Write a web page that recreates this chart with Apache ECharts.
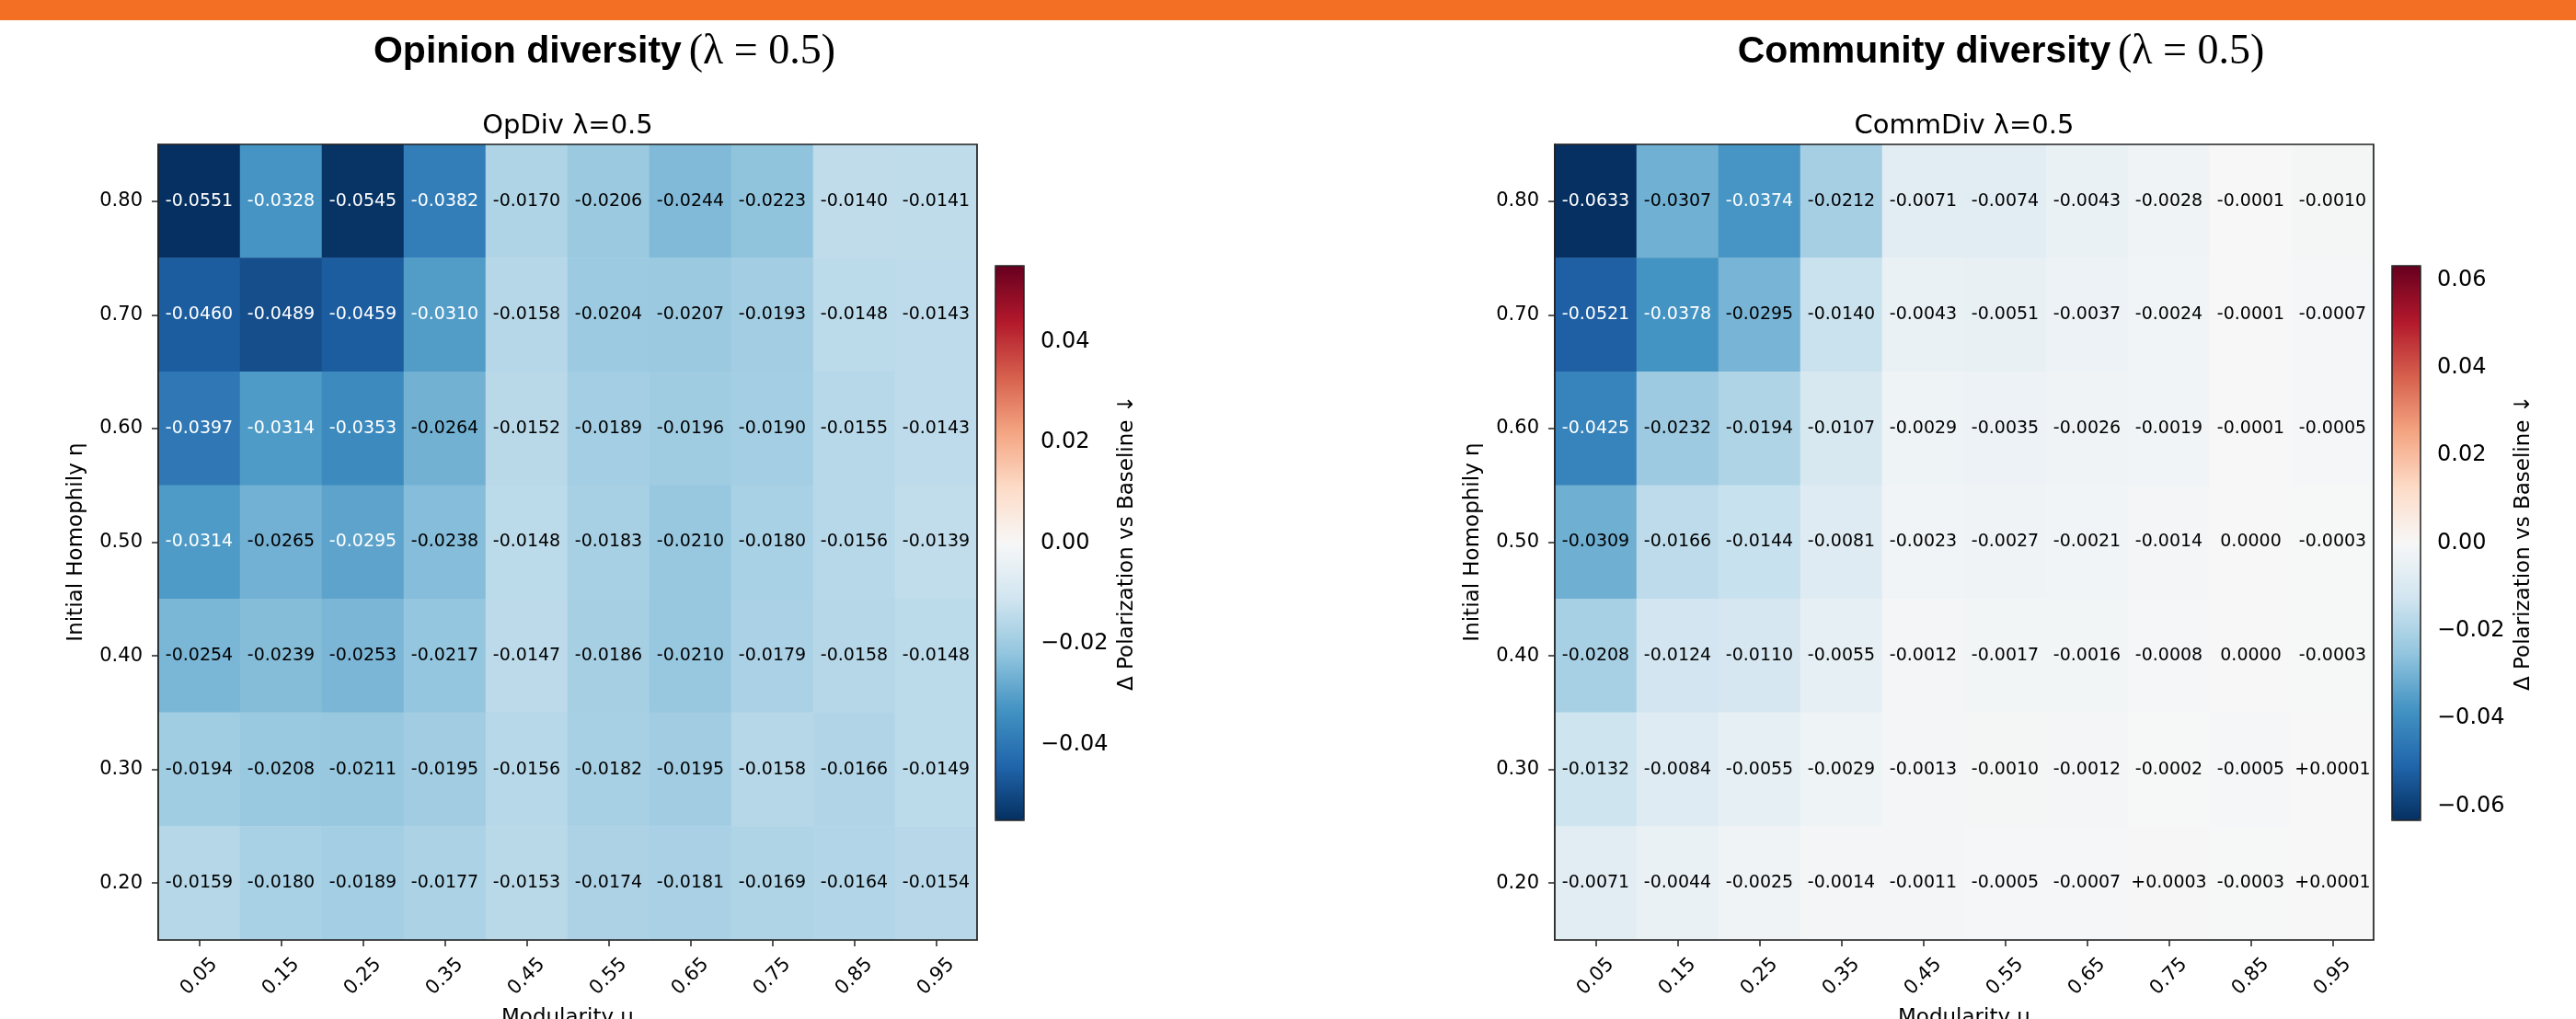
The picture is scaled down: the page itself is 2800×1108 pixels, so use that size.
<!DOCTYPE html>
<html><head><meta charset="utf-8">
<script src="https://cdn.jsdelivr.net/npm/echarts@6/dist/echarts.min.js"></script>
<style>
html,body{margin:0;padding:0;background:#fff;}
#chart{position:absolute;left:0;top:0;width:2800px;height:1108px;}
#band{position:absolute;left:0;top:0;width:2800px;height:22px;background:#F36F24;z-index:2;}
</style>
</head><body>
<div id="chart"></div><div id="band"></div>
<script>
// ---------- data ----------
const modularity = ['0.05','0.15','0.25','0.35','0.45','0.55','0.65','0.75','0.85','0.95'];
const homophily = ['0.80','0.70','0.60','0.50','0.40','0.30','0.20']; // top to bottom

const opDiv = [
  [-0.0551,-0.0328,-0.0545,-0.0382,-0.0170,-0.0206,-0.0244,-0.0223,-0.0140,-0.0141],
  [-0.0460,-0.0489,-0.0459,-0.0310,-0.0158,-0.0204,-0.0207,-0.0193,-0.0148,-0.0143],
  [-0.0397,-0.0314,-0.0353,-0.0264,-0.0152,-0.0189,-0.0196,-0.0190,-0.0155,-0.0143],
  [-0.0314,-0.0265,-0.0295,-0.0238,-0.0148,-0.0183,-0.0210,-0.0180,-0.0156,-0.0139],
  [-0.0254,-0.0239,-0.0253,-0.0217,-0.0147,-0.0186,-0.0210,-0.0179,-0.0158,-0.0148],
  [-0.0194,-0.0208,-0.0211,-0.0195,-0.0156,-0.0182,-0.0195,-0.0158,-0.0166,-0.0149],
  [-0.0159,-0.0180,-0.0189,-0.0177,-0.0153,-0.0174,-0.0181,-0.0169,-0.0164,-0.0154]
];
const commDiv = [
  [-0.0633,-0.0307,-0.0374,-0.0212,-0.0071,-0.0074,-0.0043,-0.0028,-0.0001,-0.0010],
  [-0.0521,-0.0378,-0.0295,-0.0140,-0.0043,-0.0051,-0.0037,-0.0024,-0.0001,-0.0007],
  [-0.0425,-0.0232,-0.0194,-0.0107,-0.0029,-0.0035,-0.0026,-0.0019,-0.0001,-0.0005],
  [-0.0309,-0.0166,-0.0144,-0.0081,-0.0023,-0.0027,-0.0021,-0.0014, 0.0000,-0.0003],
  [-0.0208,-0.0124,-0.0110,-0.0055,-0.0012,-0.0017,-0.0016,-0.0008, 0.0000,-0.0003],
  [-0.0132,-0.0084,-0.0055,-0.0029,-0.0013,-0.0010,-0.0012,-0.0002,-0.0005, 0.0001],
  [-0.0071,-0.0044,-0.0025,-0.0014,-0.0011,-0.0005,-0.0007, 0.0003,-0.0003, 0.0001]
];
const opTicks = [-0.04,-0.02,0,0.02,0.04];
const commTicks = [-0.06,-0.04,-0.02,0,0.02,0.04,0.06];

const mainTitles = [['Opinion diversity','(λ = 0.5)'],['Community diversity','(λ = 0.5)']];
const subTitles = ['OpDiv λ=0.5','CommDiv λ=0.5'];
const xName = 'Modularity μ';
const yName = 'Initial Homophily η';
const cbName = 'Δ Polarization vs Baseline ↓';

// ---------- styling ----------
const RdBu_r = ['#053061','#2166ac','#4393c3','#92c5de','#d1e5f0','#f7f7f7','#fddbc7','#f4a582','#d6604d','#b2182b','#67001f'];
const FONT = 'DejaVu Sans';
const INK = '#222';

function maxAbs(m){ let a=0; m.forEach(r=>r.forEach(v=>{a=Math.max(a,Math.abs(v));})); return a; }
function buildData(m, vmax){
  const out=[];
  m.forEach((row,r)=>row.forEach((v,c)=>{
    out.push({value:[c,r,v], label:{color: Math.abs(v) > 0.5*vmax ? '#ffffff' : '#000000'}});
  }));
  return out;
}
function cellFmt(p){ const v=p.value[2]; return v>0 ? '+'+v.toFixed(4) : (v===0 ? '0.0000' : v.toFixed(4)); }
function cbFmt(v){ return (v<0?'\u2212':'') + Math.abs(v).toFixed(2); }

const panels = [
  {data: opDiv, ticks: opTicks, gridLeft:172, cbLeft:1082, titleX:657},
  {data: commDiv, ticks: commTicks, gridLeft:1690, cbLeft:2600, titleX:2175}
];

const option = {
  backgroundColor:'#ffffff',
  animation:false,
  title:[], grid:[], xAxis:[], yAxis:[], series:[], visualMap:[]
};

panels.forEach((p,i)=>{
  const vmax = maxAbs(p.data);
  const plotW = 890, plotH = 865, plotTop = 157;
  const cbTop = 289, cbW = 31, cbH = 603;
  option.title.push({
    text: '{b|'+mainTitles[i][0]+'}{s| }{m|'+mainTitles[i][1]+'}',
    left: p.titleX, top: 34, textAlign:'center', padding:0,
    textStyle:{rich:{
      b:{fontFamily:'Liberation Sans', fontWeight:'bold', fontSize:41, color:'#000'},
      s:{fontFamily:'Liberation Sans', fontWeight:'normal', fontSize:28, color:'#000'},
      m:{fontFamily:'Liberation Serif', fontWeight:'normal', fontSize:46, color:'#000'}
    }}
  });
  option.title.push({
    text: subTitles[i], left: p.gridLeft + plotW/2, top: 123, textAlign:'center', padding:0,
    textStyle:{fontFamily:FONT, fontWeight:'normal', fontSize:29, color:'#000'}
  });
  // heatmap grid
  option.grid.push({left:p.gridLeft, top:plotTop, width:plotW, height:plotH, show:true,
    borderColor:INK, borderWidth:1.7, backgroundColor:'transparent', z:10, containLabel:false, outerBoundsMode:'none'});
  // colorbar grid
  option.grid.push({left:p.cbLeft, top:cbTop, width:cbW, height:cbH, show:true,
    borderColor:INK, borderWidth:1.5, backgroundColor:'transparent', z:10, containLabel:false, outerBoundsMode:'none'});
  const g = i*2;
  option.xAxis.push({
    type:'category', gridIndex:g, data:modularity, boundaryGap:true,
    name:xName, nameLocation:'middle', nameGap:74, nameMoveOverlap:false,
    nameTextStyle:{fontFamily:FONT, fontSize:23, color:'#000'},
    axisLine:{show:true, lineStyle:{color:INK, width:1.7}},
    axisTick:{show:true, alignWithLabel:true, length:7, lineStyle:{color:INK, width:1.5}},
    axisLabel:{show:true, rotate:45, align:'center', verticalAlign:'middle', margin:40, interval:0,
      fontFamily:FONT, fontSize:21, color:'#000'},
    splitLine:{show:false}
  });
  option.yAxis.push({
    type:'category', gridIndex:g, data:homophily, inverse:true, boundaryGap:true,
    name:yName, nameLocation:'middle', nameGap:77, nameMoveOverlap:false,
    nameTextStyle:{fontFamily:FONT, fontSize:23, color:'#000'},
    axisLine:{show:true, lineStyle:{color:INK, width:1.7}},
    axisTick:{show:true, alignWithLabel:true, length:7, lineStyle:{color:INK, width:1.5}},
    axisLabel:{show:true, margin:17, interval:0, fontFamily:FONT, fontSize:21, color:'#000'},
    splitLine:{show:false}
  });
  // colorbar axes
  option.xAxis.push({type:'value', gridIndex:g+1, show:false, min:0, max:1});
  option.yAxis.push({
    type:'value', gridIndex:g+1, position:'right', min:-vmax, max:vmax,
    name:cbName, nameLocation:'middle', nameRotate:90, nameGap:101, nameMoveOverlap:false,
    nameTextStyle:{fontFamily:FONT, fontSize:23, color:'#000'},
    axisLine:{show:false},
    axisTick:{show:true, length:8, customValues:p.ticks, lineStyle:{color:INK, width:1.5}},
    axisLabel:{show:true, margin:18, customValues:p.ticks, formatter:cbFmt, fontFamily:FONT, fontSize:24, color:'#000'},
    splitLine:{show:false}
  });
  option.series.push({
    type:'heatmap', xAxisIndex:g, yAxisIndex:g, data:buildData(p.data, vmax),
    label:{show:true, formatter:cellFmt, fontFamily:FONT, fontSize:19},
    emphasis:{disabled:true}, itemStyle:{borderWidth:0}
  });
  option.visualMap.push({
    type:'continuous', seriesIndex:i, min:-vmax, max:vmax, calculable:false, show:true,
    orient:'vertical', left:p.cbLeft, top:cbTop, itemWidth:cbW, itemHeight:cbH,
    padding:0, text:null, hoverLink:false,
    inRange:{color:RdBu_r}
  });
});

const chart = echarts.init(document.getElementById('chart'), null, {renderer:'canvas'});
chart.setOption(option);
</script>
</body></html>
